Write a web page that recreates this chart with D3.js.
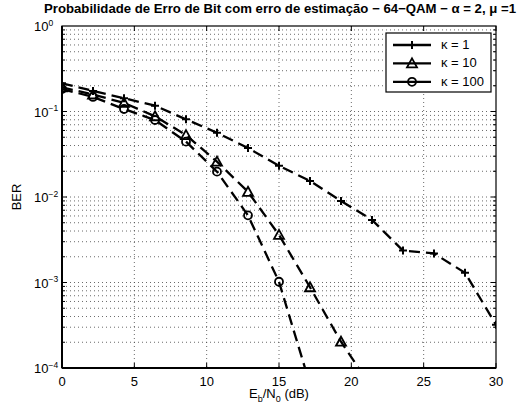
<!DOCTYPE html>
<html>
<head>
<meta charset="utf-8">
<script src="https://cdn.jsdelivr.net/npm/d3@7"></script>
<style>
  body { margin: 0; background: #fff; }
  svg { font-family: "Liberation Sans", Arial, Helvetica, sans-serif; }
</style>
</head>
<body>
<div id="chart"></div>
<script>
// Eb/N0 points (dB), 15 points from 0 to 30
var ebno = [0, 2.143, 4.286, 6.429, 8.571, 10.714, 12.857, 15, 17.143, 19.286, 21.429, 23.571, 25.714, 27.857, 30];

var berK1 = [0.214, 0.174, 0.143, 0.117, 0.081, 0.0565, 0.0374, 0.0232, 0.0154, 0.0090, 0.0054, 0.00236, 0.00219, 0.0013, 0.00032];
var berK10 = [0.192, 0.158, 0.126, 0.088, 0.053, 0.0259, 0.0115, 0.0036, 0.00088, 0.000203, 0.000058];
var berK100 = [0.183, 0.148, 0.107, 0.0795, 0.0444, 0.0198, 0.0061, 0.00102, 0.000064];

var seriesNames = ["\u03ba = 1", "\u03ba = 10", "\u03ba = 100"];
var markers = ["plus", "triangle", "circle"];
var xTicks = [0, 5, 10, 15, 20, 25, 30];
var yTickExps = [0, -1, -2, -3, -4];

var svgWidth = 527;
var svgHeight = 409;
var margin = { top: 26, right: 31, bottom: 41, left: 62 };
var width = svgWidth - margin.left - margin.right;
var height = svgHeight - margin.top - margin.bottom;

var svg = d3.select("#chart")
  .append("svg")
  .attr("width", svgWidth)
  .attr("height", svgHeight);

var chartGroup = svg.append("g")
  .attr("transform", `translate(${margin.left}, ${margin.top})`);

var x = d3.scaleLinear().domain([0, 30]).range([0, width]);
var y = d3.scaleLog().domain([1e-4, 1]).range([height, 0]);

// grid: major x, major + minor y (dotted)
var gridGroup = chartGroup.append("g");
xTicks.slice(1, -1).forEach(function(t) {
  gridGroup.append("line")
    .attr("x1", x(t)).attr("x2", x(t))
    .attr("y1", 0).attr("y2", height)
    .attr("stroke", "#444").attr("stroke-width", 0.8)
    .attr("stroke-dasharray", "1,3");
});
var yMinor = [];
for (var e = -4; e < 0; e++) {
  for (var m = 1; m < 10; m++) {
    yMinor.push(m * Math.pow(10, e));
  }
}
yMinor.forEach(function(v) {
  if (v <= 1e-4) return;
  gridGroup.append("line")
    .attr("x1", 0).attr("x2", width)
    .attr("y1", y(v)).attr("y2", y(v))
    .attr("stroke", "#444").attr("stroke-width", 0.8)
    .attr("stroke-dasharray", "1,3");
});

// ticks (inside, on all sides)
var tickGroup = chartGroup.append("g").attr("stroke", "#000").attr("stroke-width", 1);
xTicks.forEach(function(t) {
  tickGroup.append("line").attr("x1", x(t)).attr("x2", x(t)).attr("y1", height).attr("y2", height - 5);
  tickGroup.append("line").attr("x1", x(t)).attr("x2", x(t)).attr("y1", 0).attr("y2", 5);
});
yMinor.forEach(function(v) {
  var len = (Math.abs(Math.log10(v) - Math.round(Math.log10(v))) < 1e-9) ? 5 : 3;
  tickGroup.append("line").attr("x1", 0).attr("x2", len).attr("y1", y(v)).attr("y2", y(v));
  tickGroup.append("line").attr("x1", width).attr("x2", width - len).attr("y1", y(v)).attr("y2", y(v));
});

// series
var seriesData = [berK1, berK10, berK100].map(function(vals) {
  return vals.map(function(v, i) { return { x: ebno[i], y: v }; });
});

chartGroup.append("clipPath").attr("id", "plotclip")
  .append("rect").attr("x", 0).attr("y", 0).attr("width", width).attr("height", height);

var line = d3.line().x(d => x(d.x)).y(d => y(d.y));

var plotGroup = chartGroup.append("g").attr("clip-path", "url(#plotclip)");

function drawMarker(g, type, cx, cy) {
  if (type === "plus") {
    g.append("path")
      .attr("d", `M${cx - 4},${cy}H${cx + 4}M${cx},${cy - 4}V${cy + 4}`)
      .attr("stroke", "#000").attr("stroke-width", 2).attr("fill", "none");
  } else if (type === "triangle") {
    g.append("path")
      .attr("d", `M${cx},${cy - 5}L${cx + 5},${cy + 4}L${cx - 5},${cy + 4}Z`)
      .attr("stroke", "#000").attr("stroke-width", 1.8).attr("fill", "none");
  } else {
    g.append("circle")
      .attr("cx", cx).attr("cy", cy).attr("r", 4)
      .attr("stroke", "#000").attr("stroke-width", 1.8).attr("fill", "none");
  }
}

seriesData.forEach(function(data, si) {
  plotGroup.append("path")
    .datum(data)
    .attr("d", line)
    .attr("fill", "none")
    .attr("stroke", "#000")
    .attr("stroke-width", 2.3)
    .attr("stroke-dasharray", "11,6");
  data.forEach(function(d) {
    if (d.y >= 1e-4) drawMarker(plotGroup, markers[si], x(d.x), y(d.y));
  });
});

// axes box
chartGroup.append("rect")
  .attr("x", 0).attr("y", 0).attr("width", width).attr("height", height)
  .attr("fill", "none").attr("stroke", "#000").attr("stroke-width", 1.2);
chartGroup.append("line").attr("x1", 0).attr("x2", width).attr("y1", height).attr("y2", height)
  .attr("stroke", "#000").attr("stroke-width", 2);
chartGroup.append("line").attr("x1", 0).attr("x2", 0).attr("y1", 0).attr("y2", height)
  .attr("stroke", "#000").attr("stroke-width", 2);

// x tick labels
xTicks.forEach(function(t) {
  chartGroup.append("text")
    .attr("x", x(t)).attr("y", height + 18)
    .attr("text-anchor", "middle")
    .style("font-size", "13px")
    .text(t);
});

// y tick labels 10^e
yTickExps.forEach(function(e) {
  var ty = y(Math.pow(10, e));
  var txt = chartGroup.append("text")
    .attr("x", -28).attr("y", ty + 5)
    .style("font-size", "13px");
  txt.append("tspan").text("10");
  txt.append("tspan").attr("dy", -5.5).style("font-size", "8.5px")
    .text(e === 0 ? "0" : "\u2212" + Math.abs(e));
});

// axis labels
var xl = svg.append("text")
  .attr("x", margin.left + width / 2).attr("y", 398)
  .attr("text-anchor", "middle")
  .style("font-size", "13px");
xl.append("tspan").text("E");
xl.append("tspan").attr("dy", 4).style("font-size", "9px").text("b");
xl.append("tspan").attr("dy", -4).text("/N");
xl.append("tspan").attr("dy", 4).style("font-size", "9px").text("0");
xl.append("tspan").attr("dy", -4).text(" (dB)");

svg.append("text")
  .attr("transform", "translate(21, 197) rotate(-90)")
  .attr("text-anchor", "middle")
  .style("font-size", "13px")
  .text("BER");

// title
svg.append("text")
  .attr("x", 280).attr("y", 13)
  .attr("text-anchor", "middle")
  .style("font-size", "12.5px")
  .style("font-weight", "bold")
  .attr("textLength", 472)
  .attr("lengthAdjust", "spacingAndGlyphs")
  .text("Probabilidade de Erro de Bit com erro de estima\u00e7\u00e3o \u2212 64\u2212QAM \u2212 \u03b1 = 2, \u03bc =1");

// legend
var legend = chartGroup.append("g")
  .attr("transform", `translate(${386 - margin.left}, ${33 - margin.top})`);
legend.append("rect")
  .attr("x", 0).attr("y", 0).attr("width", 105).attr("height", 59)
  .attr("fill", "#fff").attr("stroke", "#000").attr("stroke-width", 1.2);
seriesNames.forEach(function(name, i) {
  var ly = 12 + i * 18.4;
  legend.append("line")
    .attr("x1", 7).attr("x2", 45).attr("y1", ly).attr("y2", ly)
    .attr("stroke", "#000").attr("stroke-width", 2.3);
  drawMarker(legend, markers[i], 26, ly);
  legend.append("text")
    .attr("x", 55).attr("y", ly + 4)
    .style("font-size", "13px")
    .text(name);
});
</script>
</body>
</html>
